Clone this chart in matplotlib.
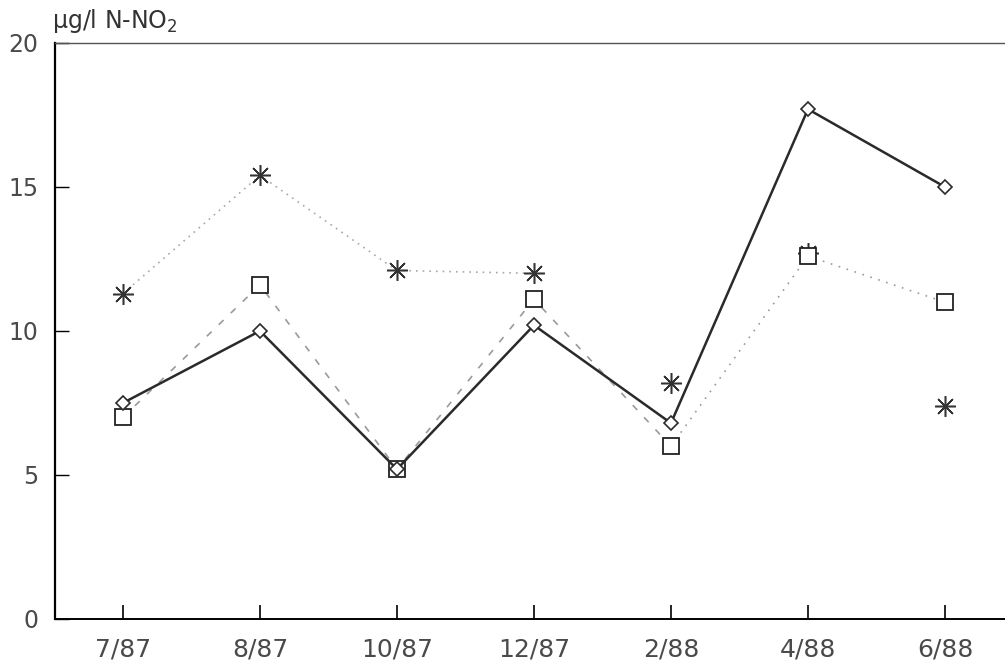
import matplotlib.pyplot as plt

# data
dates = ['7/87', '8/87', '10/87', '12/87', '2/88', '4/88', '6/88']
diamond = [7.5, 10.0, 5.2, 10.2, 6.8, 17.7, 15.0]
square = [7.0, 11.6, 5.2, 11.1, 6.0, 12.6, 11.0]
star = [11.3, 15.4, 12.1, 12.0, 8.2, 12.7, 7.4]
yticks = [0, 5, 10, 15, 20]

x = list(range(len(dates)))
txt = '#4a4a4a'

fig = plt.figure(figsize=(10.05, 6.65), dpi=100)
ax = fig.add_axes([0.0547, 0.0692, 0.9453, 0.8662])

# star series: light dotted line over the first four samples only
ax.plot(x[:4], star[:4], ls=(0, (1, 3)), color='#a8a8a8', lw=1.2)
ax.plot(x, star, ls='none', marker=(8, 2, 0), ms=15, mec='#333333', mew=1.1)

# square series: dashed, then dotted from 2/88 on
ax.plot(x[:5], square[:5], ls=(0, (4, 6)), color='#9a9a9a', lw=1.2)
ax.plot(x[4:], square[4:], ls=(0, (1, 4)), color='#9a9a9a', lw=1.2)
ax.plot(x, square, ls='none', marker='s', ms=11, mfc='white', mec='#222222', mew=1.3)

# diamond series: solid line
ax.plot(x, diamond, color='#2a2a2a', lw=1.8, marker='D', ms=7, mfc='white', mec='#2a2a2a', mew=1.2)

ax.set_xlim(-0.496, 6.438)
ax.set_ylim(0, 20)
ax.set_xticks(x, dates)
ax.set_yticks(yticks, [str(v) for v in yticks])

ax.tick_params(axis='x', direction='in', length=10, width=1.2, pad=13, labelsize=18, labelcolor=txt)
ax.tick_params(axis='y', direction='in', length=10, width=1.0, pad=12, labelsize=17, labelcolor=txt)

ax.spines['right'].set_visible(False)
ax.spines['left'].set_linewidth(1.6)
ax.spines['bottom'].set_linewidth(1.4)
ax.spines['top'].set_linewidth(1.0)
ax.spines['top'].set_color('#555555')

fig.text(52 / 1005, 1 - 28 / 665, 'µg/l N-NO$_2$', fontsize=17,
         color='#333333', ha='left', va='baseline')

fig.savefig('out.png', dpi=100)
